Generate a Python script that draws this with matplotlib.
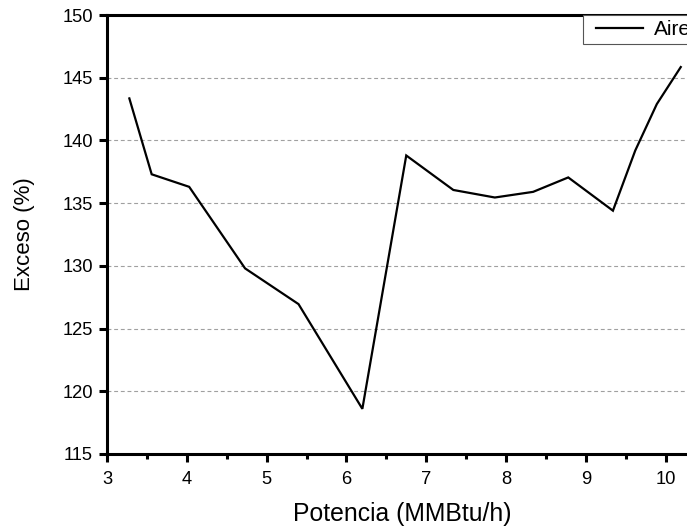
import matplotlib
matplotlib.use("Agg")
import matplotlib.pyplot as plt
from matplotlib.ticker import MultipleLocator
from matplotlib.legend_handler import HandlerLine2D

plt.rcParams['font.family'] = ['Liberation Sans', 'DejaVu Sans']

# Burner power vs. excess air
potencia = [3.28, 3.56, 4.03, 4.73, 5.40, 6.20, 6.75, 7.34, 7.86, 8.34, 8.78, 9.34, 9.62, 9.89, 10.19]
exceso = [143.35, 137.3, 136.3, 129.8, 126.95, 118.6, 138.8, 136.05, 135.45, 135.9, 137.05, 134.4, 139.2, 142.9, 145.85]
serie = "Aire"

x_ticks = [3, 4, 5, 6, 7, 8, 9, 10]
y_ticks = [115, 120, 125, 130, 135, 140, 145, 150]

fig = plt.figure(figsize=(6.87, 5.29), dpi=100)
W, H = 687, 529
left, top, bottom = 107, 15, 454
x_right = 10.39
right_px = left + (x_right - 3) * 79.8
ax = fig.add_axes([left / W, (H - bottom) / H, (right_px - left) / W, (bottom - top) / H])

line, = ax.plot(potencia, exceso, color='black', lw=1.6, label=serie, solid_joinstyle='miter')

ax.set_xlim(3, x_right)
ax.set_ylim(115, 150)
ax.set_xticks(x_ticks)
ax.set_yticks(y_ticks)
ax.xaxis.set_minor_locator(MultipleLocator(0.5))

ax.grid(axis='y', which='major', color='#a0a0a0', linestyle=(0, (3.5, 2.5)), lw=0.8)
ax.set_axisbelow(True)

for s in ax.spines.values():
    s.set_linewidth(2.2)

ax.tick_params(axis='both', which='major', direction='out', length=6, width=2.2,
               labelsize=13.2)
ax.tick_params(axis='x', which='major', pad=6.5)
ax.tick_params(axis='y', which='major', pad=4)
ax.tick_params(axis='x', which='minor', direction='out', length=3.5, width=2.2)
ax.tick_params(axis='y', which='minor', length=0)

ax.set_xlabel("Potencia (MMBtu/h)", fontsize=17.8, labelpad=10)
ax.set_ylabel("Exceso (%)", fontsize=16, labelpad=20)

leg = ax.legend(loc='upper left', bbox_to_anchor=(583 / W, 1 - 15 / H),
                bbox_transform=fig.transFigure, borderaxespad=0, fontsize=15,
                fancybox=False, framealpha=1, edgecolor='#555555',
                handlelength=2.65, handletextpad=0.5, borderpad=0.25,
                handler_map={line: HandlerLine2D(xpad=0.35)})
leg.get_frame().set_linewidth(0.8)

fig.savefig("out.png", dpi=100)
